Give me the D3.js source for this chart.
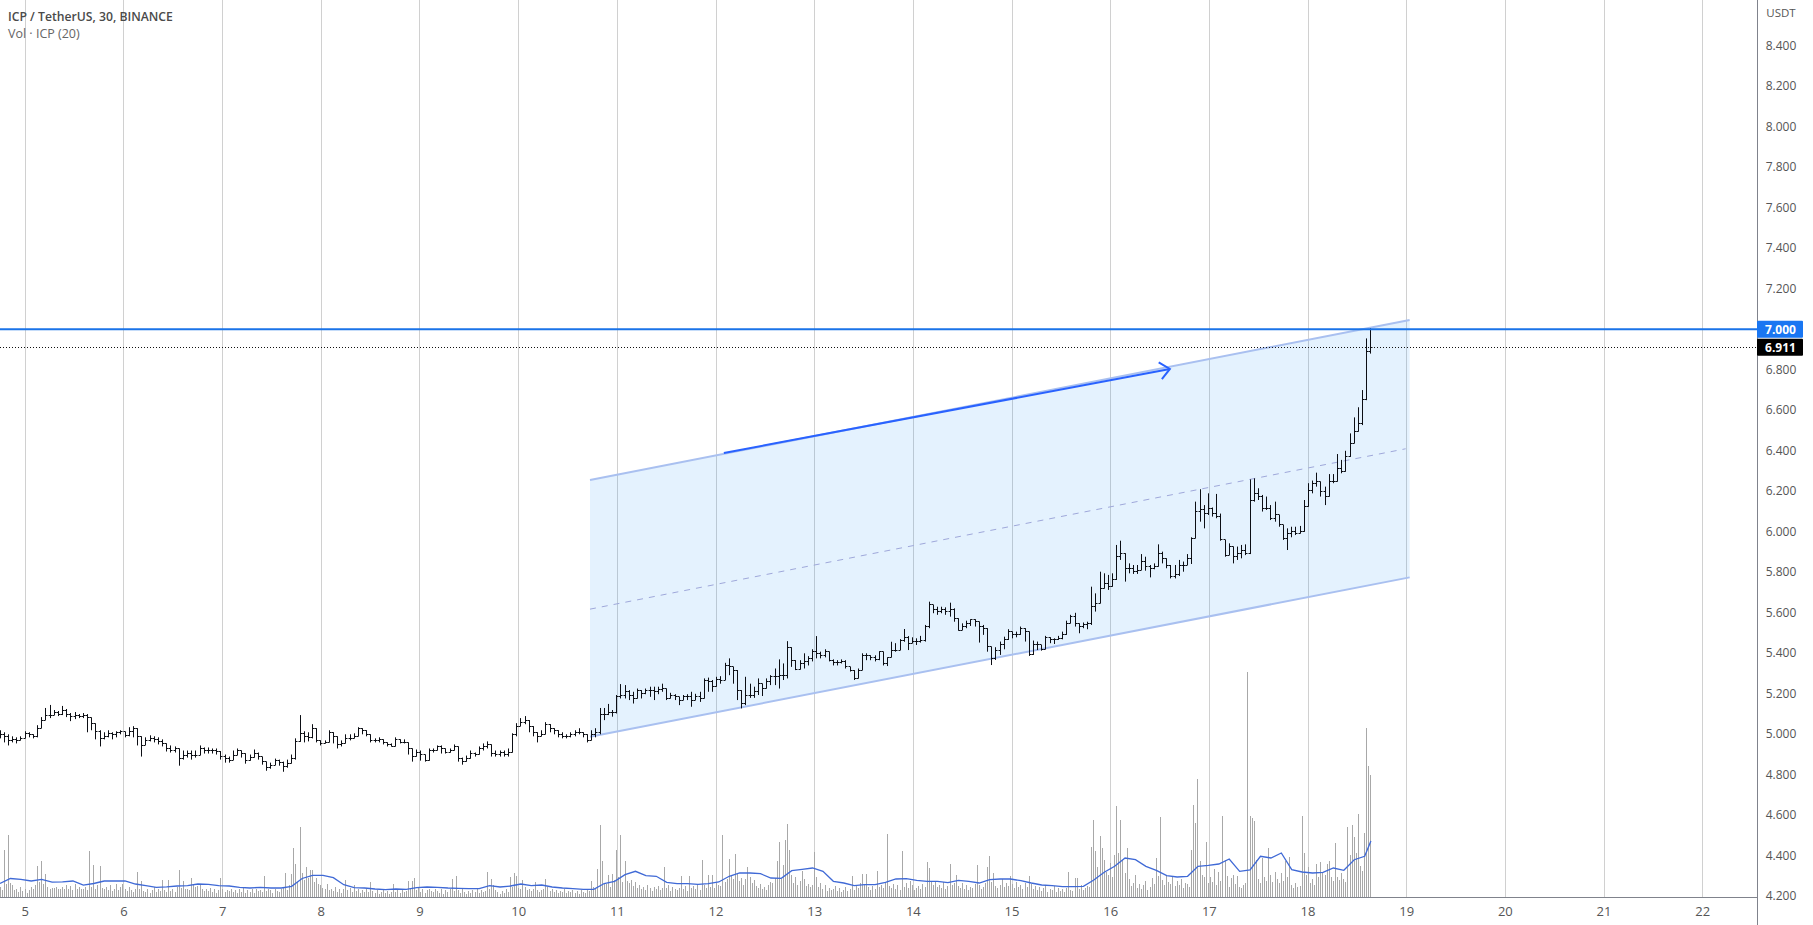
<!DOCTYPE html>
<html><head><meta charset="utf-8">
<style>html,body{margin:0;padding:0;background:#fff;overflow:hidden}svg{display:block}text{font-family:"Open Sans",sans-serif}</style>
<script src="https://cdnjs.cloudflare.com/ajax/libs/d3/7.8.5/d3.min.js"></script>
</head><body><svg id="c" width="1813" height="925"></svg>
<script>
const dayTicks = [5,6,7,8,9,10,11,12,13,14,15,16,17,18,19,20,21,22];
const priceTicks = [4.2,4.4,4.6,4.8,5.0,5.2,5.4,5.6,5.8,6.0,6.2,6.4,6.6,6.8,7.2,7.4,7.6,7.8,8.0,8.2,8.4];
const alertPrice = 7.0, lastPrice = 6.911;
const firstBarDay = 4.7436, barStepDay = 0.04223;
const volFirstDay = 4.7436, volStepDay = 0.021115, maEvery = 5;

const closesA = [5.00,4.99,4.97,4.975,4.97,4.98,5.005,5.00,4.99,5.03,5.07,5.095,5.095,5.107,5.10,5.117,5.10,5.09,5.095,5.09,5.095,5.083,5.054,5.013,4.98,4.99,5.005,5.00,5.008,5.013,4.996,5.013,5.03,4.99,4.947,4.97,4.98,4.975,4.963,4.955,4.93,4.922,4.93,4.88,4.897,4.906,4.897,4.897,4.93,4.922,4.922,4.919,4.917,4.889,4.88,4.873,4.897,4.919,4.906,4.873,4.886,4.906,4.889,4.865,4.837,4.848,4.87,4.86,4.843,4.856,4.88,4.963,5.005,4.99,4.985];
const highsA = [5.02,5.01,5.00,4.99,4.985,4.99,5.015,5.01,5.00,5.045,5.085,5.13,5.145,5.12,5.115,5.14,5.125,5.105,5.11,5.10,5.105,5.10,5.07,5.05,5.02,5.01,5.02,5.01,5.015,5.02,5.01,5.035,5.04,5.01,4.975,4.985,4.995,4.99,4.985,4.975,4.945,4.945,4.94,4.91,4.92,4.92,4.92,4.92,4.945,4.935,4.935,4.93,4.93,4.91,4.90,4.89,4.92,4.93,4.92,4.90,4.90,4.925,4.91,4.885,4.865,4.86,4.88,4.875,4.865,4.875,4.90,4.98,5.095,5.015,5.01];
const lowsA = [4.98,4.96,4.945,4.96,4.955,4.97,4.985,4.985,4.98,4.985,5.03,5.07,5.08,5.095,5.09,5.095,5.085,5.065,5.075,5.08,5.08,5.01,5.02,4.975,4.94,4.975,4.985,4.975,4.985,5.00,4.985,4.99,4.985,4.945,4.89,4.955,4.965,4.96,4.95,4.94,4.915,4.91,4.91,4.845,4.875,4.885,4.875,4.885,4.905,4.905,4.905,4.905,4.90,4.875,4.86,4.86,4.875,4.90,4.885,4.855,4.87,4.885,4.875,4.85,4.82,4.83,4.855,4.845,4.815,4.835,4.86,4.875,4.98,4.96,4.965];

const closesB = [5.03,4.97,4.955,4.96,5.01,4.99,4.95,4.955,4.98,4.98,4.99,5.03,5.02,5.00,4.97,4.97,4.975,4.96,4.95,4.94,4.975,4.96,4.96,4.93,4.89,4.91,4.90,4.87,4.92,4.92,4.94,4.93,4.91,4.92,4.94,4.88,4.865,4.88,4.905,4.90,4.93,4.94,4.95,4.905,4.90,4.91,4.90,4.91,5.00,5.04,5.06,5.07,5.04,5.01,4.99,5.00,5.05,5.03,5.02,5.00,4.99,4.99,5.00,5.01,5.01,5.00,4.97,5.00,5.01,5.10,5.10,5.11];
const highsB = [5.05,4.99,4.97,4.97,5.02,5.01,4.98,4.97,5.00,5.00,5.005,5.035,5.03,5.01,4.985,4.98,4.985,4.97,4.96,4.955,4.985,4.975,4.975,4.96,4.91,4.925,4.92,4.89,4.93,4.93,4.945,4.945,4.92,4.93,4.95,4.90,4.885,4.895,4.92,4.91,4.94,4.955,4.965,4.935,4.92,4.92,4.92,4.93,5.005,5.055,5.08,5.09,5.06,5.03,5.01,5.02,5.06,5.04,5.03,5.02,5.01,5.00,5.01,5.02,5.03,5.01,5.00,5.02,5.03,5.13,5.13,5.15];
const lowsB = [4.98,4.96,4.945,4.955,4.975,4.955,4.93,4.94,4.965,4.97,4.98,5.00,5.00,4.99,4.96,4.96,4.96,4.95,4.94,4.94,4.95,4.955,4.955,4.90,4.865,4.89,4.87,4.865,4.90,4.91,4.92,4.905,4.905,4.91,4.92,4.865,4.85,4.865,4.89,4.89,4.90,4.92,4.93,4.89,4.89,4.89,4.89,4.89,4.955,4.99,5.04,5.05,5.01,4.99,4.96,4.99,5.02,5.01,5.00,4.985,4.98,4.98,4.985,4.99,5.00,4.985,4.96,4.975,4.985,5.00,5.07,5.095];

const closesC = [5.106,5.185,5.194,5.21,5.194,5.177,5.218,5.20,5.218,5.218,5.21,5.223,5.226,5.177,5.194,5.185,5.169,5.185,5.189,5.169,5.189,5.177,5.268,5.26,5.235,5.27,5.268,5.34,5.333,5.317,5.218,5.152,5.194,5.194,5.21,5.25,5.226,5.26,5.284,5.284,5.292,5.292,5.43,5.366,5.32,5.35,5.36,5.375,5.408,5.40,5.39,5.408,5.366,5.353,5.353,5.36,5.333,5.317,5.276,5.317,5.39,5.39,5.38,5.37,5.408,5.35,5.38,5.416,5.416,5.465,5.48,5.45];
const highsC = [5.12,5.194,5.248,5.243,5.218,5.21,5.226,5.218,5.226,5.235,5.235,5.235,5.25,5.226,5.205,5.198,5.185,5.194,5.198,5.21,5.20,5.21,5.276,5.28,5.268,5.284,5.287,5.353,5.375,5.333,5.268,5.185,5.284,5.25,5.235,5.276,5.243,5.276,5.292,5.325,5.37,5.35,5.46,5.42,5.36,5.366,5.40,5.386,5.42,5.485,5.408,5.42,5.40,5.37,5.366,5.37,5.366,5.33,5.317,5.325,5.40,5.40,5.39,5.39,5.41,5.38,5.38,5.457,5.45,5.47,5.52,5.485];
const lowsC = [5.087,5.103,5.177,5.177,5.169,5.152,5.177,5.177,5.198,5.185,5.169,5.198,5.21,5.169,5.177,5.169,5.144,5.169,5.169,5.136,5.169,5.16,5.198,5.21,5.21,5.235,5.25,5.284,5.292,5.25,5.169,5.128,5.144,5.18,5.18,5.194,5.189,5.226,5.243,5.243,5.226,5.268,5.276,5.333,5.317,5.32,5.325,5.34,5.36,5.375,5.375,5.38,5.36,5.34,5.34,5.35,5.325,5.31,5.268,5.30,5.35,5.366,5.366,5.36,5.366,5.34,5.337,5.408,5.408,5.45,5.457,5.416];

const closesD = [5.458,5.458,5.463,5.532,5.639,5.617,5.606,5.614,5.606,5.614,5.573,5.515,5.532,5.548,5.565,5.556,5.532,5.524,5.433,5.375,5.416,5.441,5.466,5.507,5.491,5.491,5.524,5.507,5.392,5.441,5.441,5.42,5.479,5.466,5.466,5.474,5.491,5.548,5.581,5.548,5.532,5.54,5.545,5.63,5.647,5.72,5.746,5.729,5.762];
const highsD = [5.479,5.474,5.486,5.54,5.655,5.639,5.63,5.63,5.627,5.65,5.622,5.573,5.548,5.561,5.568,5.568,5.54,5.54,5.524,5.433,5.43,5.458,5.482,5.519,5.507,5.507,5.532,5.524,5.458,5.463,5.458,5.441,5.486,5.474,5.474,5.486,5.507,5.561,5.59,5.60,5.548,5.552,5.556,5.729,5.696,5.803,5.795,5.787,5.795];
const lowsD = [5.45,5.441,5.453,5.458,5.524,5.598,5.59,5.598,5.59,5.581,5.556,5.512,5.519,5.524,5.535,5.532,5.453,5.491,5.408,5.342,5.367,5.392,5.42,5.466,5.474,5.479,5.491,5.458,5.387,5.42,5.416,5.413,5.43,5.45,5.446,5.466,5.469,5.507,5.548,5.532,5.499,5.524,5.519,5.54,5.606,5.647,5.72,5.713,5.746];

const closesE = [5.877,5.894,5.82,5.82,5.803,5.811,5.853,5.828,5.82,5.828,5.894,5.869,5.836,5.778,5.787,5.836,5.836,5.869,5.968,6.10,6.108,6.09,6.116,6.09,6.075,5.96,5.885,5.927,5.877,5.894,5.91,5.894,6.157,6.19,6.174,6.116,6.116,6.067,6.083,6.034,5.968,5.992,6.00,5.992,6.00,6.124,6.206,6.24,6.248,6.198,6.174,6.248,6.248,6.313,6.297,6.37,6.437,6.495,6.536,6.651,6.89,6.911];
const highsE = [5.935,5.956,5.877,5.844,5.836,5.836,5.89,5.877,5.836,5.844,5.938,5.902,5.857,5.82,5.836,5.861,5.853,5.89,5.973,6.149,6.21,6.132,6.19,6.12,6.187,6.09,5.96,5.943,5.918,5.927,5.935,5.938,6.259,6.264,6.215,6.182,6.174,6.132,6.149,6.083,6.034,6.017,6.025,6.025,6.029,6.157,6.24,6.253,6.292,6.243,6.223,6.285,6.285,6.384,6.355,6.40,6.486,6.565,6.615,6.70,6.955,7.005];
const lowsE = [5.828,5.861,5.754,5.795,5.792,5.792,5.828,5.808,5.775,5.815,5.853,5.844,5.82,5.77,5.77,5.782,5.803,5.844,5.841,5.984,6.05,6.017,6.083,6.075,6.067,5.956,5.877,5.894,5.844,5.861,5.869,5.885,5.89,6.149,6.157,6.10,6.108,6.058,6.05,6.025,5.96,5.91,5.973,5.984,5.992,6.075,6.144,6.19,6.223,6.174,6.132,6.215,6.24,6.305,6.289,6.31,6.37,6.486,6.52,6.527,6.65,6.88];

const volumes = [
10,7,47,13,62,14,12,7,8,5, 10,6,8,4,7,10,8,12,31,15, 36,13,23,10,8,9,9,10,8,8, 10,8,12,8,11,7,13,8,10,8,
8,10,7,46,10,32,8,12,31,9, 8,10,7,12,6,8,13,7,10,13, 8,6,10,7,5,8,25,8,16,6, 5,8,4,7,10,5,8,6,17,7,
5,17,6,8,5,10,27,9,16,8, 8,7,19,13,10,11,12,8,6,8, 6,9,5,8,4,7,19,8,5,7, 6,8,5,7,4,8,5,10,4,7,
5,8,4,8,6,7,5,21,6,8, 7,4,8,6,5,8,10,24,7,12, 23,49,33,15,70,24,17,30,19,27, 27,15,19,13,12,9,8,13,7,8,
6,10,5,8,4,8,17,7,9,5, 12,6,8,4,7,5,8,5,15,6, 4,7,3,5,8,4,6,3,5,13, 5,7,4,8,5,6,16,8,16,19,
7,10,5,8,4,7,8,6,5,8, 6,4,8,3,7,5,8,18,6,21, 7,4,8,5,3,6,4,7,5,8, 4,7,5,6,25,8,18,12,7,5,
3,6,4,8,5,20,10,24,21,9, 8,17,10,7,8,6,8,15,7,5, 7,8,18,10,6,8,5,7,4,6, 5,8,4,6,5,7,4,6,3,7,
5,4,8,6,16,10,8,28,72,36, 14,13,22,10,23,17,47,20,62,15, 36,16,14,17,11,15,9,12,8,10, 7,12,9,6,10,8,11,7,9,30,
9,12,6,10,8,7,9,21,8,11, 6,21,9,11,8,13,7,37,12,9, 22,10,22,9,14,12,11,62,15,18, 38,22,18,43,24,16,19,12,18,30,
20,14,17,11,9,13,8,10,7,12, 15,14,19,36,55,18,32,57,73,47, 22,14,20,12,16,26,18,11,13,10, 12,45,20,10,14,8,12,6,9,7,
8,11,6,9,5,7,10,6,8,21, 7,12,9,14,23,13,23,10,7,11, 8,26,10,12,9,14,63,11,9,13, 8,12,7,46,10,14,9,16,12,7,
9,11,8,13,10,35,29,16,12,15, 10,12,9,15,8,11,33,12,14,22, 11,9,14,8,12,7,10,9,13,32, 12,8,10,14,30,41,15,24,11,9,
12,18,10,14,11,21,13,9,15,10, 12,8,14,10,21,13,8,11,7,10, 6,9,12,5,8,7,11,5,9,6, 8,5,9,25,7,6,19,19,8,12,
7,9,11,10,50,77,46,30,61,49, 37,25,22,34,20,42,91,44,77,37, 24,49,18,11,14,22,9,13,8,12, 16,7,10,19,13,39,21,80,17,12,
22,15,13,20,11,16,12,18,9,14, 13,10,47,92,74,118,36,22,20,55, 14,20,15,28,12,25,16,81,37,21, 10,19,22,13,21,10,9,12,14,225,
81,79,76,37,18,14,39,20,16,49, 22,15,25,18,14,24,16,36,20,40, 12,9,14,10,11,81,44,22,30,14, 18,12,33,20,35,24,22,33,36,20,
16,54,20,17,24,18,15,70,42,72, 60,44,83,31,26,64,169,131,122];
const volumeAverage = [
13.5,18.5,17.7,16,17.7,14.8,15.2,16,11.8,13.5,16,16,16,13,11.4,9.7,10.1,11,11.4,13,12.6,11.4,11,9.7,9,9.7,9,9,10.7,18.5,21.7,21.7,19.4,12.3,9.3,9,8,7.3,8,7.6,9.3,10,9.7,9,8.7,8.3,8.3,11.4,10,11,13,11.4,12,10,9,8.3,7.6,7.6,13.5,15.7,
22.3,25.7,21.3,20.7,14.7,13.3,13.3,12.7,13.3,15,20.7,24,24,23.3,19,18.7,26.3,27.7,29,25.7,15.7,14,11.3,12.3,12.3,14.7,18,18.3,16.7,15.7,15.7,14.3,16.7,15.7,14,17.3,18,18,16.3,14,12,11.3,10.3,10.3,
10.7,17,24.7,30.7,39,37.3,30.7,26.7,21.3,20,20.7,30.7,31.7,33,38,25.7,27,40.7,39,44,27.3,25,24,24.7,29,26.7,37.3,40.7,56];

const channelDays = [10.723, 19.03];
const channelTop = [6.256, 7.046];
const channelMid = [5.618, 6.41];
const channelBottom = [4.988, 5.775];
const arrowDays = [12.08, 16.60];
const arrowPrices = [6.389, 6.804];

const closes = [...closesA,...closesB,...closesC,...closesD,...closesE];
const highs = [...highsA,...highsB,...highsC,...highsD,...highsE];
const lows = [...lowsA,...lowsB,...lowsC,...lowsD,...lowsE];

const W=1813,H=925,axisX=1757,axisY=897;
const svg=d3.select('#c');
const x=d3.scaleLinear().domain([5,19]).range([25.3,1406.7]);
const y=d3.scaleLinear().domain([7,4.2]).range([329.3,896.3]);
const v=d3.scaleLinear().domain([0,225]).range([axisY,axisY-225]);
const crisp=p=>Math.round(p-0.5)+0.5;

// grid
svg.append('g').selectAll('line').data(dayTicks).join('line')
 .attr('x1',d=>crisp(x(d))).attr('x2',d=>crisp(x(d))).attr('y1',0).attr('y2',axisY)
 .attr('stroke','#d0d0d0').attr('stroke-width',1);

// channel
const ch=svg.append('g');
const corners=[[0,channelTop],[1,channelTop],[1,channelBottom],[0,channelBottom]];
ch.append('polygon').attr('points',corners.map(([i,s])=>[x(channelDays[i]),y(s[i])].join(',')).join(' '))
 .attr('fill','#2196f3').attr('fill-opacity',0.12);
[channelTop,channelBottom].forEach(s=>ch.append('line')
 .attr('x1',x(channelDays[0])).attr('x2',x(channelDays[1])).attr('y1',y(s[0])).attr('y2',y(s[1]))
 .attr('stroke','#a9c0f0').attr('stroke-width',2));
ch.append('line').attr('x1',x(channelDays[0])).attr('x2',x(channelDays[1])-4).attr('y1',y(channelMid[0])).attr('y2',y(channelMid[1]))
 .attr('stroke','#9fa8da').attr('stroke-width',1).attr('stroke-dasharray','6 6');

// volume
svg.append('g').selectAll('line').data(volumes).join('line')
 .attr('x1',(d,i)=>crisp(x(volFirstDay+i*volStepDay))).attr('x2',(d,i)=>crisp(x(volFirstDay+i*volStepDay)))
 .attr('y1',axisY).attr('y2',d=>v(d)).attr('stroke','#a8a8a8').attr('stroke-width',1);
const maLine=d3.line().x(d=>x(volFirstDay+d[0]*volStepDay)).y(d=>v(d[1])).curve(d3.curveLinear);
const maData=volumeAverage.map((d,i)=>[i<volumeAverage.length-1?i*maEvery:volumes.length-1,d]);
svg.append('path').attr('d',maLine(maData)).attr('fill','none').attr('stroke','#3f69d6').attr('stroke-width',1.3);

// price bars
const bars=svg.append('g').attr('stroke','#0c0e14').attr('stroke-width',1).attr('fill','none');
closes.forEach((c,i)=>{
  const o=i?closes[i-1]:c;
  const cx=crisp(x(firstBarDay+i*barStepDay));
  const hi=Math.max(highs[i],o,c), lo=Math.min(lows[i],o,c);
  bars.append('path').attr('d',`M${cx},${y(hi)}V${y(lo)}M${cx-2},${crisp(y(o))}H${cx}M${cx},${crisp(y(c))}H${cx+2}`);
});

// arrow
const ax0=x(arrowDays[0]),ay0=y(arrowPrices[0]),ax1=x(arrowDays[1]),ay1=y(arrowPrices[1]);
svg.append('line').attr('x1',ax0).attr('y1',ay0).attr('x2',ax1).attr('y2',ay1).attr('stroke','#2962ff').attr('stroke-width',2);
const ang=Math.atan2(ay1-ay0,ax1-ax0),hl=13,hb=0.72;
svg.append('path').attr('d',`M${ax1-hl*Math.cos(ang-hb)},${ay1-hl*Math.sin(ang-hb)}L${ax1},${ay1}L${ax1-hl*Math.cos(ang+hb)},${ay1-hl*Math.sin(ang+hb)}`)
 .attr('fill','none').attr('stroke','#2962ff').attr('stroke-width',2);

// horizontal levels
svg.append('line').attr('x1',0).attr('x2',axisX).attr('y1',y(alertPrice)).attr('y2',y(alertPrice)).attr('stroke','#1a73e8').attr('stroke-width',2);
svg.append('line').attr('x1',0).attr('x2',axisX).attr('y1',crisp(y(lastPrice))).attr('y2',crisp(y(lastPrice))).attr('stroke','#111').attr('stroke-width',1).attr('stroke-dasharray','1 2');

// axes
svg.append('line').attr('x1',0).attr('x2',axisX).attr('y1',axisY+.5).attr('y2',axisY+.5).attr('stroke','#80838c');
svg.append('line').attr('x1',axisX+.5).attr('x2',axisX+.5).attr('y1',0).attr('y2',H).attr('stroke','#80838c');
svg.append('g').selectAll('text').data(dayTicks).join('text').attr('x',d=>x(d)).attr('y',916).attr('text-anchor','middle')
 .attr('font-size',13).attr('fill','#555').text(d=>d);
svg.append('g').selectAll('text').data(priceTicks).join('text').attr('x',1781).attr('y',d=>y(d)+4).attr('text-anchor','middle')
 .attr('font-size',12).attr('fill','#555').text(d=>d.toFixed(3));
svg.append('text').attr('x',1781).attr('y',17).attr('text-anchor','middle').attr('font-size',11.5).attr('fill','#555').text('USDT');

// tags
const tag=(p,fill,label)=>{
  const c=y(p);
  svg.append('rect').attr('x',axisX).attr('y',c-8.5).attr('width',46).attr('height',17).attr('rx',1).attr('fill',fill);
  svg.append('text').attr('x',1780.5).attr('y',c+4.5).attr('text-anchor','middle').attr('font-size',12).attr('font-weight',700).attr('fill','#fff').text(label);
};
tag(alertPrice,'#1976f2',alertPrice.toFixed(3));
tag(lastPrice,'#000',lastPrice.toFixed(3));

// title
svg.append('text').attr('x',8).attr('y',21).attr('font-size',12.2).attr('font-weight',600).attr('fill','#4a4a4a').text('ICP / TetherUS, 30, BINANCE');
svg.append('text').attr('x',8).attr('y',38).attr('font-size',12.5).attr('fill','#666').text('Vol · ICP (20)');
</script></body></html>
